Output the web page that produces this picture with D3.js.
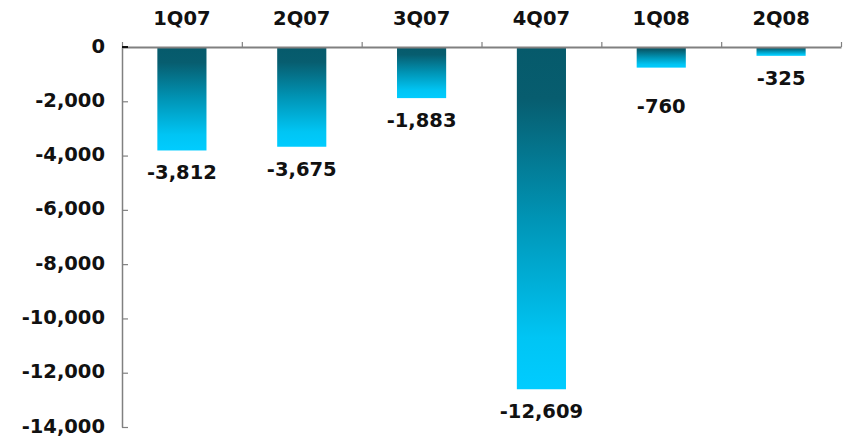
<!DOCTYPE html>
<html>
<head>
<meta charset="utf-8">
<script src="https://cdn.jsdelivr.net/npm/d3@7"></script>
<style>
  html, body { margin: 0; padding: 0; background: #fff; }
  svg text { font-family: "DejaVu Sans", Verdana, sans-serif; font-weight: bold; fill: #111; }
</style>
</head>
<body>
<svg id="chart" width="850" height="436"></svg>
<script>
// Quarterly values
const quarters = ["1Q07", "2Q07", "3Q07", "4Q07", "1Q08", "2Q08"];
const values = [-3812, -3675, -1883, -12609, -760, -325];
const yTicks = [0, -2000, -4000, -6000, -8000, -10000, -12000, -14000];

const svg = d3.select("#chart");
const plotLeft = 122, plotRight = 841, plotTop = 47, plotBottom = 427;

const x = d3.scaleBand().domain(quarters).range([plotLeft, plotRight]).paddingInner(0.59).paddingOuter(0.295);
const xEdges = d3.scaleLinear().domain([0, quarters.length]).range([plotLeft, plotRight]);
const y = d3.scaleLinear().domain([0, -14000]).range([plotTop, plotBottom]);

// Thousands separator with a plain hyphen for negatives
const fmt = d3.formatLocale({ decimal: ".", thousands: ",", grouping: [3], currency: ["", ""], minus: "-" }).format(",");

// Bar gradient: dark teal at the top fading to bright cyan
const defs = svg.append("defs");
const grad = defs.append("linearGradient")
  .attr("id", "barGrad").attr("x1", 0).attr("y1", 0).attr("x2", 0).attr("y2", 1);
[[0, "#065a6b"], [0.15, "#075d6f"], [0.5, "#0094b5"], [0.85, "#00c5f4"], [1, "#00ccff"]]
  .forEach(([o, c]) => grad.append("stop").attr("offset", o).attr("stop-color", c));

// Bars
svg.append("g").selectAll("rect")
  .data(values)
  .join("rect")
  .attr("x", (d, i) => x(quarters[i]))
  .attr("width", x.bandwidth())
  .attr("y", y(0))
  .attr("height", d => y(d) - y(0))
  .attr("fill", "url(#barGrad)");

// Value labels below each bar (the 1Q08 label sits a little lower)
const labelGap = (q) => (q === "1Q08" ? 45 : 29);
svg.append("g").selectAll("text")
  .data(values)
  .join("text")
  .attr("x", (d, i) => x(quarters[i]) + x.bandwidth() / 2)
  .attr("y", (d, i) => y(d) + labelGap(quarters[i]))
  .attr("text-anchor", "middle")
  .style("font-size", "19.5px")
  .text(d => fmt(d));

// Left axis
const yAxis = svg.append("g")
  .attr("transform", `translate(${plotLeft},0)`)
  .call(d3.axisLeft(y).tickValues(yTicks).tickSizeInner(-6).tickSizeOuter(0).tickPadding(17).tickFormat(fmt));
yAxis.select(".domain").attr("stroke", "#808080").attr("stroke-width", 1.5);
yAxis.selectAll(".tick line").attr("stroke", "#808080").attr("stroke-width", 1.2);
yAxis.selectAll(".tick text").style("font-size", "19.5px").attr("fill", "#111").attr("dy", "0.26em");

// Top axis line with boundary ticks
const xTickAxis = svg.append("g")
  .attr("transform", `translate(0,${plotTop})`)
  .call(d3.axisTop(xEdges).tickValues(d3.range(quarters.length + 1)).tickSizeInner(5).tickSizeOuter(0).tickFormat(""));
xTickAxis.select(".domain").attr("stroke", "#808080").attr("stroke-width", 2);
xTickAxis.selectAll(".tick line").attr("stroke", "#808080").attr("stroke-width", 1.2);

// Category labels above the axis
const xLabelAxis = svg.append("g")
  .attr("transform", `translate(0,${plotTop})`)
  .call(d3.axisTop(x).tickSize(0).tickPadding(22));
xLabelAxis.select(".domain").remove();
xLabelAxis.selectAll(".tick text").style("font-size", "19.5px").attr("fill", "#111");

// Zero tick emphasised
svg.append("line")
  .attr("x1", plotLeft).attr("x2", plotLeft + 6)
  .attr("y1", y(0)).attr("y2", y(0))
  .attr("stroke", "#111").attr("stroke-width", 2);
</script>
</body>
</html>
